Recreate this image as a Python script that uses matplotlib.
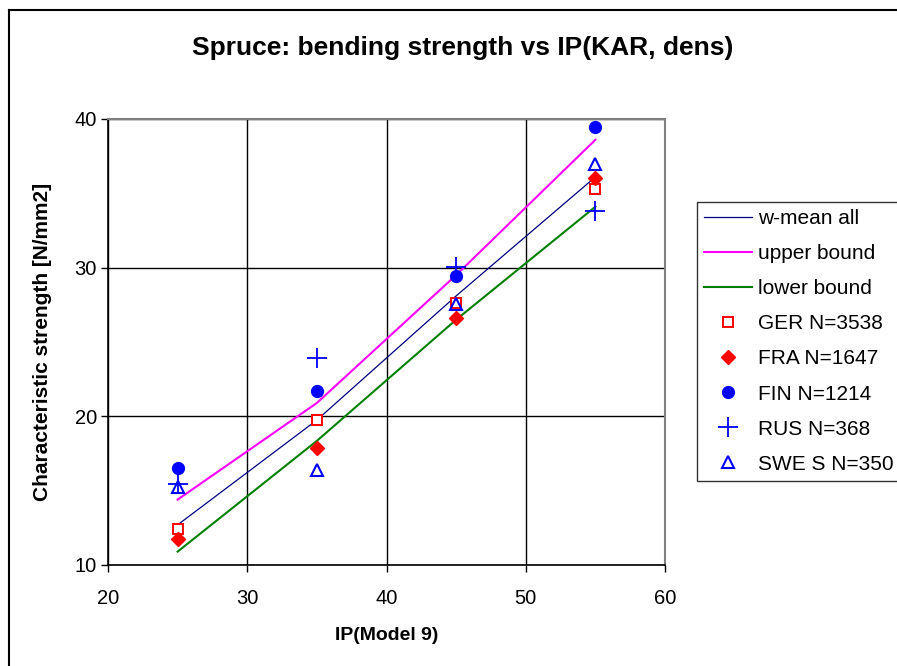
import numpy as np
import matplotlib
matplotlib.use("Agg")
from matplotlib import pyplot as plt
from matplotlib.lines import Line2D

plt.rcParams['font.family'] = ['Liberation Sans', 'DejaVu Sans']

# data
ip = [25, 35, 45, 55]
w_mean = [12.7, 19.75, 28.1, 36.1]
upper = [14.4, 20.9, 29.5, 38.6]
lower = [10.9, 18.35, 26.5, 34.1]

ger = [12.4, 19.75, 27.6, 35.3]
fra = [11.75, 17.85, 26.6, 36.05]
fin = [16.5, 21.7, 29.45, 39.45]
rus = [15.45, 23.9, 30.05, 33.8]
swe = [15.25, 16.4, 27.55, 37.0]

W, H = 897, 666
fig = plt.figure(figsize=(W/100, H/100), dpi=100)
ax = fig.add_axes([108/W, 1-565/H, (665-108)/W, (565-119)/H])

ax.plot(ip, w_mean, color='#000080', lw=0.9, label='w-mean all', zorder=3)
ax.plot(ip, upper, color='#FF00FF', lw=1.5, label='upper bound', zorder=3)
ax.plot(ip, lower, color='#008000', lw=1.5, label='lower bound', zorder=3)

ax.plot(ip, ger, ls='none', marker='s', ms=7.5, mfc='white', mec='#FF0000', mew=1.4, label='GER N=3538', zorder=4)
ax.plot(ip, fra, ls='none', marker='D', ms=7, color='#FF0000', label='FRA N=1647', zorder=4)
ax.plot(ip, fin, ls='none', marker='o', ms=8.5, color='#0000FF', label='FIN N=1214', zorder=4)
ax.plot(ip, rus, ls='none', marker='+', ms=15, mew=1.3, color='#0000FF', label='RUS N=368', zorder=4)
ax.plot(ip, swe, ls='none', marker='^', ms=8.5, mfc='none', mec='#0000FF', mew=1.5, label='SWE S N=350', zorder=4)

ax.set_xlim(20, 60)
ax.set_ylim(10, 40)
ax.set_xticks([20, 30, 40, 50, 60])
ax.set_yticks([10, 20, 30, 40])
ax.grid(True, color='black', lw=1.0)
ax.set_axisbelow(True)
ax.tick_params(direction='out', length=5, width=1, labelsize=14.5)
ax.tick_params(axis='x', pad=12)
ax.tick_params(axis='y', pad=3)
for s in ['top', 'right']:
    ax.spines[s].set_color('#808080')
    ax.spines[s].set_linewidth(1.5)
for s in ['left', 'bottom']:
    ax.spines[s].set_color('black')
    ax.spines[s].set_linewidth(1.2)

ax.set_xlabel('IP(Model 9)', fontsize=14, fontweight='bold', labelpad=14)
ax.set_ylabel('Characteristic strength [N/mm2]', fontsize=15, fontweight='bold', labelpad=16)
fig.text(463/W, 1-48/H, 'Spruce: bending strength vs IP(KAR, dens)', fontsize=19,
         fontweight='bold', ha='center', va='center')

leg = fig.legend(loc='upper left', bbox_to_anchor=(697/W, 1-202/H), fontsize=15,
                 frameon=True, fancybox=False, edgecolor='black', labelspacing=0.77,
                 handlelength=2.3, handletextpad=0.3, borderpad=0.35, borderaxespad=0)
leg.get_frame().set_linewidth(1.0)

# chart area border
fig.add_artist(Line2D([9/W, 9/W], [0, 1-10/H], color='black', lw=1.5))
fig.add_artist(Line2D([9/W, 1], [1-10/H, 1-10/H], color='black', lw=1.5))

fig.savefig('out.png', dpi=100)
